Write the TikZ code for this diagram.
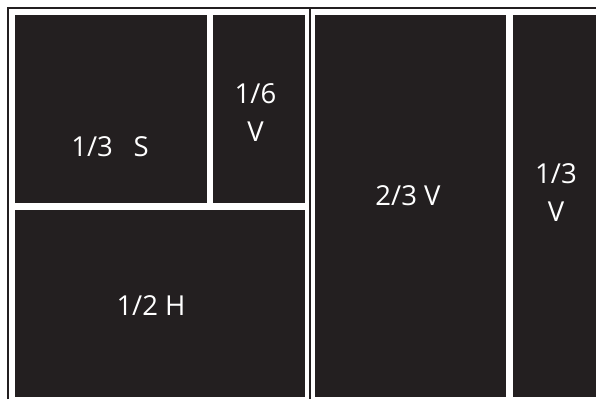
\documentclass[tikz,border=0pt]{standalone}
\usepackage{fontspec}
\setmainfont{Open Sans}
\definecolor{ink}{HTML}{231F20}
\begin{document}
\begin{tikzpicture}[x=1pt,y=-1pt,
  panel/.style={fill=ink,draw=none,inner sep=0pt,outer sep=0pt,anchor=north west},
  lbl/.style={text=white,font=\fontsize{27.5}{38.4}\selectfont,align=center,anchor=base,inner sep=0pt},
  frame/.style={draw=ink,line width=1.8pt}]
\useasboundingbox (0,0) rectangle (596,399);
% panels
\node[panel,minimum width=191.7pt,minimum height=188pt] (s) at (15,14.7) {};
\node[panel,minimum width=91.8pt,minimum height=188pt] (v6) at (212.7,14.7) {};
\node[panel,minimum width=290pt,minimum height=187.3pt] (h) at (15,210) {};
\node[panel,minimum width=191pt,minimum height=382.6pt] (v23) at (315,14.7) {};
\node[panel,minimum width=90pt,minimum height=382.6pt] (v13) at (513.3,14.7) {};
% frame and divider
\coordinate (tl) at (8,399);
\coordinate (tc) at (8,7.7);
\coordinate (tr) at (600,7.7);
\draw[frame] (tl) -- (tc) -- (tr);
\coordinate (dtop) at (310,7.7);
\coordinate (dbot) at (310,399);
\draw[draw=ink,line width=1.3pt] (dtop) -- (dbot);
% labels
\node[lbl] (ls) at (110,156.7) {1/3\hspace{0.75em}S};
\node[lbl] (lv6) at (255.5,141.7) {1/6\\V};
\node[lbl] (lh) at (151,315) {1/2 H};
\node[lbl] (lv23) at (408,205) {2/3 V};
\node[lbl] (lv13) at (556,221.7) {1/3\\V};
\end{tikzpicture}
\end{document}
